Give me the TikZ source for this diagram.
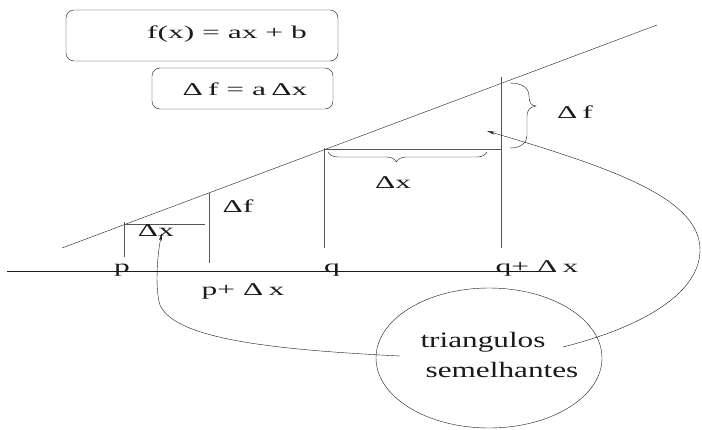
\documentclass[tikz,border=0pt]{standalone}
\usepackage{fontspec}
\setmainfont{Liberation Serif}
\usetikzlibrary{arrows.meta,decorations.pathreplacing}
\definecolor{blackmain}{HTML}{1A1A1A}
\definecolor{graymuted}{HTML}{555555}
\tikzset{
  lbl/.style={anchor=base,inner sep=0pt,xscale=1.75,font=\fontsize{18}{20}\selectfont},
  biglbl/.style={anchor=base,inner sep=0pt,xscale=1.42,font=\fontsize{22}{24}\selectfont},
  brc/.style={decorate,decoration={brace,#1}},
}

\begin{document}
\begin{tikzpicture}[x=1pt,y=-1pt,>={Stealth[length=8pt,width=3pt]},blackmain]
  \useasboundingbox (0,0) rectangle (702,429);
  \draw[rounded corners=8pt] (66,10) rectangle (338,61);
  \draw[rounded corners=8pt] (152,68) rectangle (333,109);
  \node[lbl] (eqf) at (227,38) {f(x) = ax + b};
  \node[lbl] (eqd) at (245,95) {Δ\,f = a\,Δx};
  \coordinate (P) at (124,271);
  \coordinate (Pd) at (209,271);
  \coordinate (Q) at (324,271);
  \coordinate (Qd) at (501,271);
  \draw (7,271)--(550,271);
  \draw (62,248)--(657,25);
  \draw[graymuted] (124,222)--(124,257);
  \draw[graymuted] (124,224)--(205,224);
  \draw[graymuted] (209,193)--(209,263);
  \draw[graymuted] (324,148)--(324,248);
  \draw[graymuted] (324,149)--(501,149);
  \draw[graymuted] (501,77)--(501,248);
  \draw[brc={amplitude=10pt,aspect=0.43,mirror}] (328,152)--(487,152);
  \draw (510,83) .. controls (522,83) and (529,88) .. (529,96)
    .. controls (529,102) and (531,106) .. (536,106)
    .. controls (530,107) and (527,110) .. (527,116) -- (527,136)
    .. controls (527,143) and (520,148) .. (510,148);
  \node[lbl] (dxs) at (156,236) {Δx};
  \node[lbl] (dfs) at (238,212) {Δf};
  \node[lbl] (dxb) at (393,188) {Δx};
  \node[lbl] (dfb) at (575,118) {Δ\,f};
  \node[lbl] (lp) at (122,272) {p};
  \node[lbl] (lpd) at (243,295) {p+ Δ\,x};
  \node[lbl] (lq) at (332,272) {q};
  \node[lbl] (lqd) at (537,272) {q+ Δ\,x};
  \draw (489,358) ellipse [x radius=113pt,y radius=70pt];
  \node[biglbl] (tri) at (483,347) {triangulos};
  \node[biglbl] (sem) at (502,377) {semelhantes};
  \coordinate (triL) at (400,356);
  \coordinate (triR) at (563,347);
  \coordinate (tipA) at (162,233);
  \coordinate (tipB) at (487,131);
  \draw[->] (triL) .. controls (280,350) and (175,340) .. (160,305)
    .. controls (155,290) and (157,255) .. (tipA);
  \draw[->] (triR) .. controls (650,325) and (700,290) .. (700,250)
    .. controls (700,200) and (620,170) .. (tipB);
\end{tikzpicture}
\end{document}
